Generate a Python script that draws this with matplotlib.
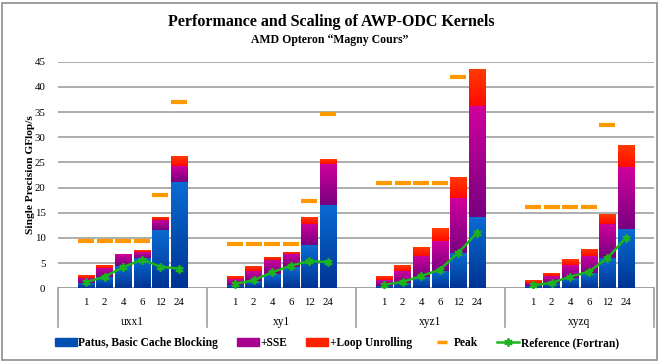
import numpy as np
import matplotlib
matplotlib.use("Agg")
import matplotlib.pyplot as plt
import matplotlib.colors as mcolors
import matplotlib.transforms as mtransforms
from matplotlib.patches import Patch, Rectangle
from matplotlib.lines import Line2D

plt.rcParams['font.family'] = ['Liberation Serif', 'DejaVu Serif']

kernels = ['uxx1', 'xy1', 'xyz1', 'xyzq']
threads = ['1', '2', '4', '6', '12', '24']

# GFlop/s levels (cumulative: basic -> +SSE -> +unrolling)
basic = [[1.1, 2.2, 4.4, 6.1, 11.6, 21.1],
         [0.66, 1.45, 2.9, 4.2, 8.6, 16.5],
         [0.5, 1.05, 2.25, 3.4, 7.1, 14.2],
         [0.5, 1.1, 2.1, 3.1, 6.0, 11.8]]
with_sse = [[2.1, 4.1, 6.6, 7.2, 13.6, 24.3],
            [1.85, 3.4, 5.7, 6.9, 12.8, 24.7],
            [1.7, 3.4, 6.5, 9.3, 18.0, 36.3],
            [1.1, 2.45, 4.55, 6.5, 12.8, 24.0]]
with_unroll = [[2.6, 4.6, 6.6, 7.4, 14.0, 26.1],
               [2.25, 4.2, 6.2, 7.2, 14.0, 25.5],
               [2.45, 4.4, 8.2, 11.8, 22.1, 43.5],
               [1.65, 3.0, 5.6, 7.8, 14.75, 28.3]]
peak = [[9.3, 9.3, 9.3, 9.3, 18.5, 36.9],
        [8.7, 8.7, 8.7, 8.7, 17.3, 34.7],
        [20.85, 20.85, 20.85, 20.85, 41.9, np.nan],
        [16.1, 16.1, 16.1, 16.1, 32.4, np.nan]]
reference = [[1.2, 2.3, 4.2, 5.7, 4.3, 3.9],
             [0.86, 1.6, 3.2, 4.5, 5.4, 5.2],
             [0.7, 1.25, 2.45, 3.7, 7.1, 11.05],
             [0.6, 1.1, 2.3, 3.3, 6.0, 10.05]]

labels = ['Patus, Basic Cache Blocking', '+SSE', '+Loop Unrolling', 'Peak',
          'Reference (Fortran)']

# gradient (top colour, bottom colour) per segment
grads = [('#0A6BD2', '#003494'), ('#D0009C', '#780080'), ('#FF3A00', '#FF0A00')]
solid = ['#0050B4', '#A8008E', '#FF2200']
peak_col = '#FF9900'
ref_col = '#1CB41C'
grid_col = '#A0A0A0'
bw = 0.87

fig = plt.figure(figsize=(6.59, 3.62), dpi=100)
ax = fig.add_axes([58/659, 73.7/362, 596/659, 226.6/362])

def grad_bar(x, bottom, height, top_c, bot_c):
    if height <= 0:
        return
    cmap = mcolors.LinearSegmentedColormap.from_list('g', [bot_c, top_c])
    img = np.linspace(0, 1, 64).reshape(-1, 1)
    ax.imshow(img, cmap=cmap, origin='lower', aspect='auto', interpolation='bilinear',
              extent=(x - bw/2, x + bw/2, bottom, bottom + height), zorder=3)

xt = []
for g in range(len(kernels)):
    xs = np.arange(6) + g*8 + 1
    xt.extend(xs)
    b = np.array(basic[g])
    s = np.array(with_sse[g])
    u = np.array(with_unroll[g])
    for i, x in enumerate(xs):
        grad_bar(x, 0, b[i], *grads[0])
        grad_bar(x, b[i], s[i] - b[i], *grads[1])
        grad_bar(x, s[i], u[i] - s[i], *grads[2])
    ax.plot(xs, peak[g], ls='none', marker='_', ms=11, mew=3, color=peak_col, zorder=5)
    ax.plot(xs, reference[g], color=ref_col, lw=1.8, marker=(6, 2, 0), ms=6, mew=1.3,
            zorder=6)

ax.set_xlim(-0.5, 31.5)
ax.set_ylim(0, 45)
ax.set_yticks(np.arange(0, 46, 5))
ax.yaxis.grid(True, color=grid_col, lw=1.2)
ax.set_axisbelow(True)
for sp in ['top', 'right', 'left', 'bottom']:
    ax.spines[sp].set_visible(False)
ax.tick_params(axis='y', length=0, pad=9, labelsize=7.8)
ax.set_xticks(xt)
ax.set_xticklabels(threads * 4)
ax.tick_params(axis='x', length=0, pad=7, labelsize=7.8)
ax.axhline(0, color=grid_col, lw=1.2, zorder=2)

trans = mtransforms.blended_transform_factory(ax.transData, ax.transAxes)
for xsep in [-0.5, 7.5, 15.5, 23.5, 31.5]:
    ax.add_line(Line2D([xsep, xsep], [0, -0.1715], transform=trans, color=grid_col,
                       lw=1.2, clip_on=False))
for g, k in enumerate(kernels):
    ax.text(g*8 + 3.5, -0.147, k, transform=trans, ha='center', va='center', fontsize=8.3)

ax.set_ylabel('Single Precision GFlop/s', fontsize=8.2, fontweight='bold', labelpad=0)

fig.text(0.503, 1 - 21.5/362, 'Performance and Scaling of AWP-ODC Kernels',
         ha='center', va='center', fontsize=11.5, fontweight='bold')
fig.text(0.5, 1 - 40.5/362, 'AMD Opteron \u201cMagny Cours\u201d',
         ha='center', va='center', fontsize=8.5, fontweight='bold')

handles = [Patch(color=solid[0]), Patch(color=solid[1]), Patch(color=solid[2]),
           Line2D([], [], ls='none', marker='_', ms=7, mew=2.5, color=peak_col),
           Line2D([], [], color=ref_col, lw=1.8, marker=(6, 2, 0), ms=6, mew=1.3)]
fig.legend(handles, labels, loc='center', bbox_to_anchor=(337/659, 1 - 343.3/362), ncol=5,
           frameon=False, prop={'weight': 'bold', 'size': 8.3},
           handlelength=1.9, handleheight=0.7, handletextpad=0.12, columnspacing=1.65)

fig.add_artist(Rectangle((1.5/659, 2/362), 655.5/659, 357.5/362, transform=fig.transFigure,
                         fill=False, edgecolor='#8C8C8C', lw=1.2))

fig.savefig('out.png', dpi=100)
